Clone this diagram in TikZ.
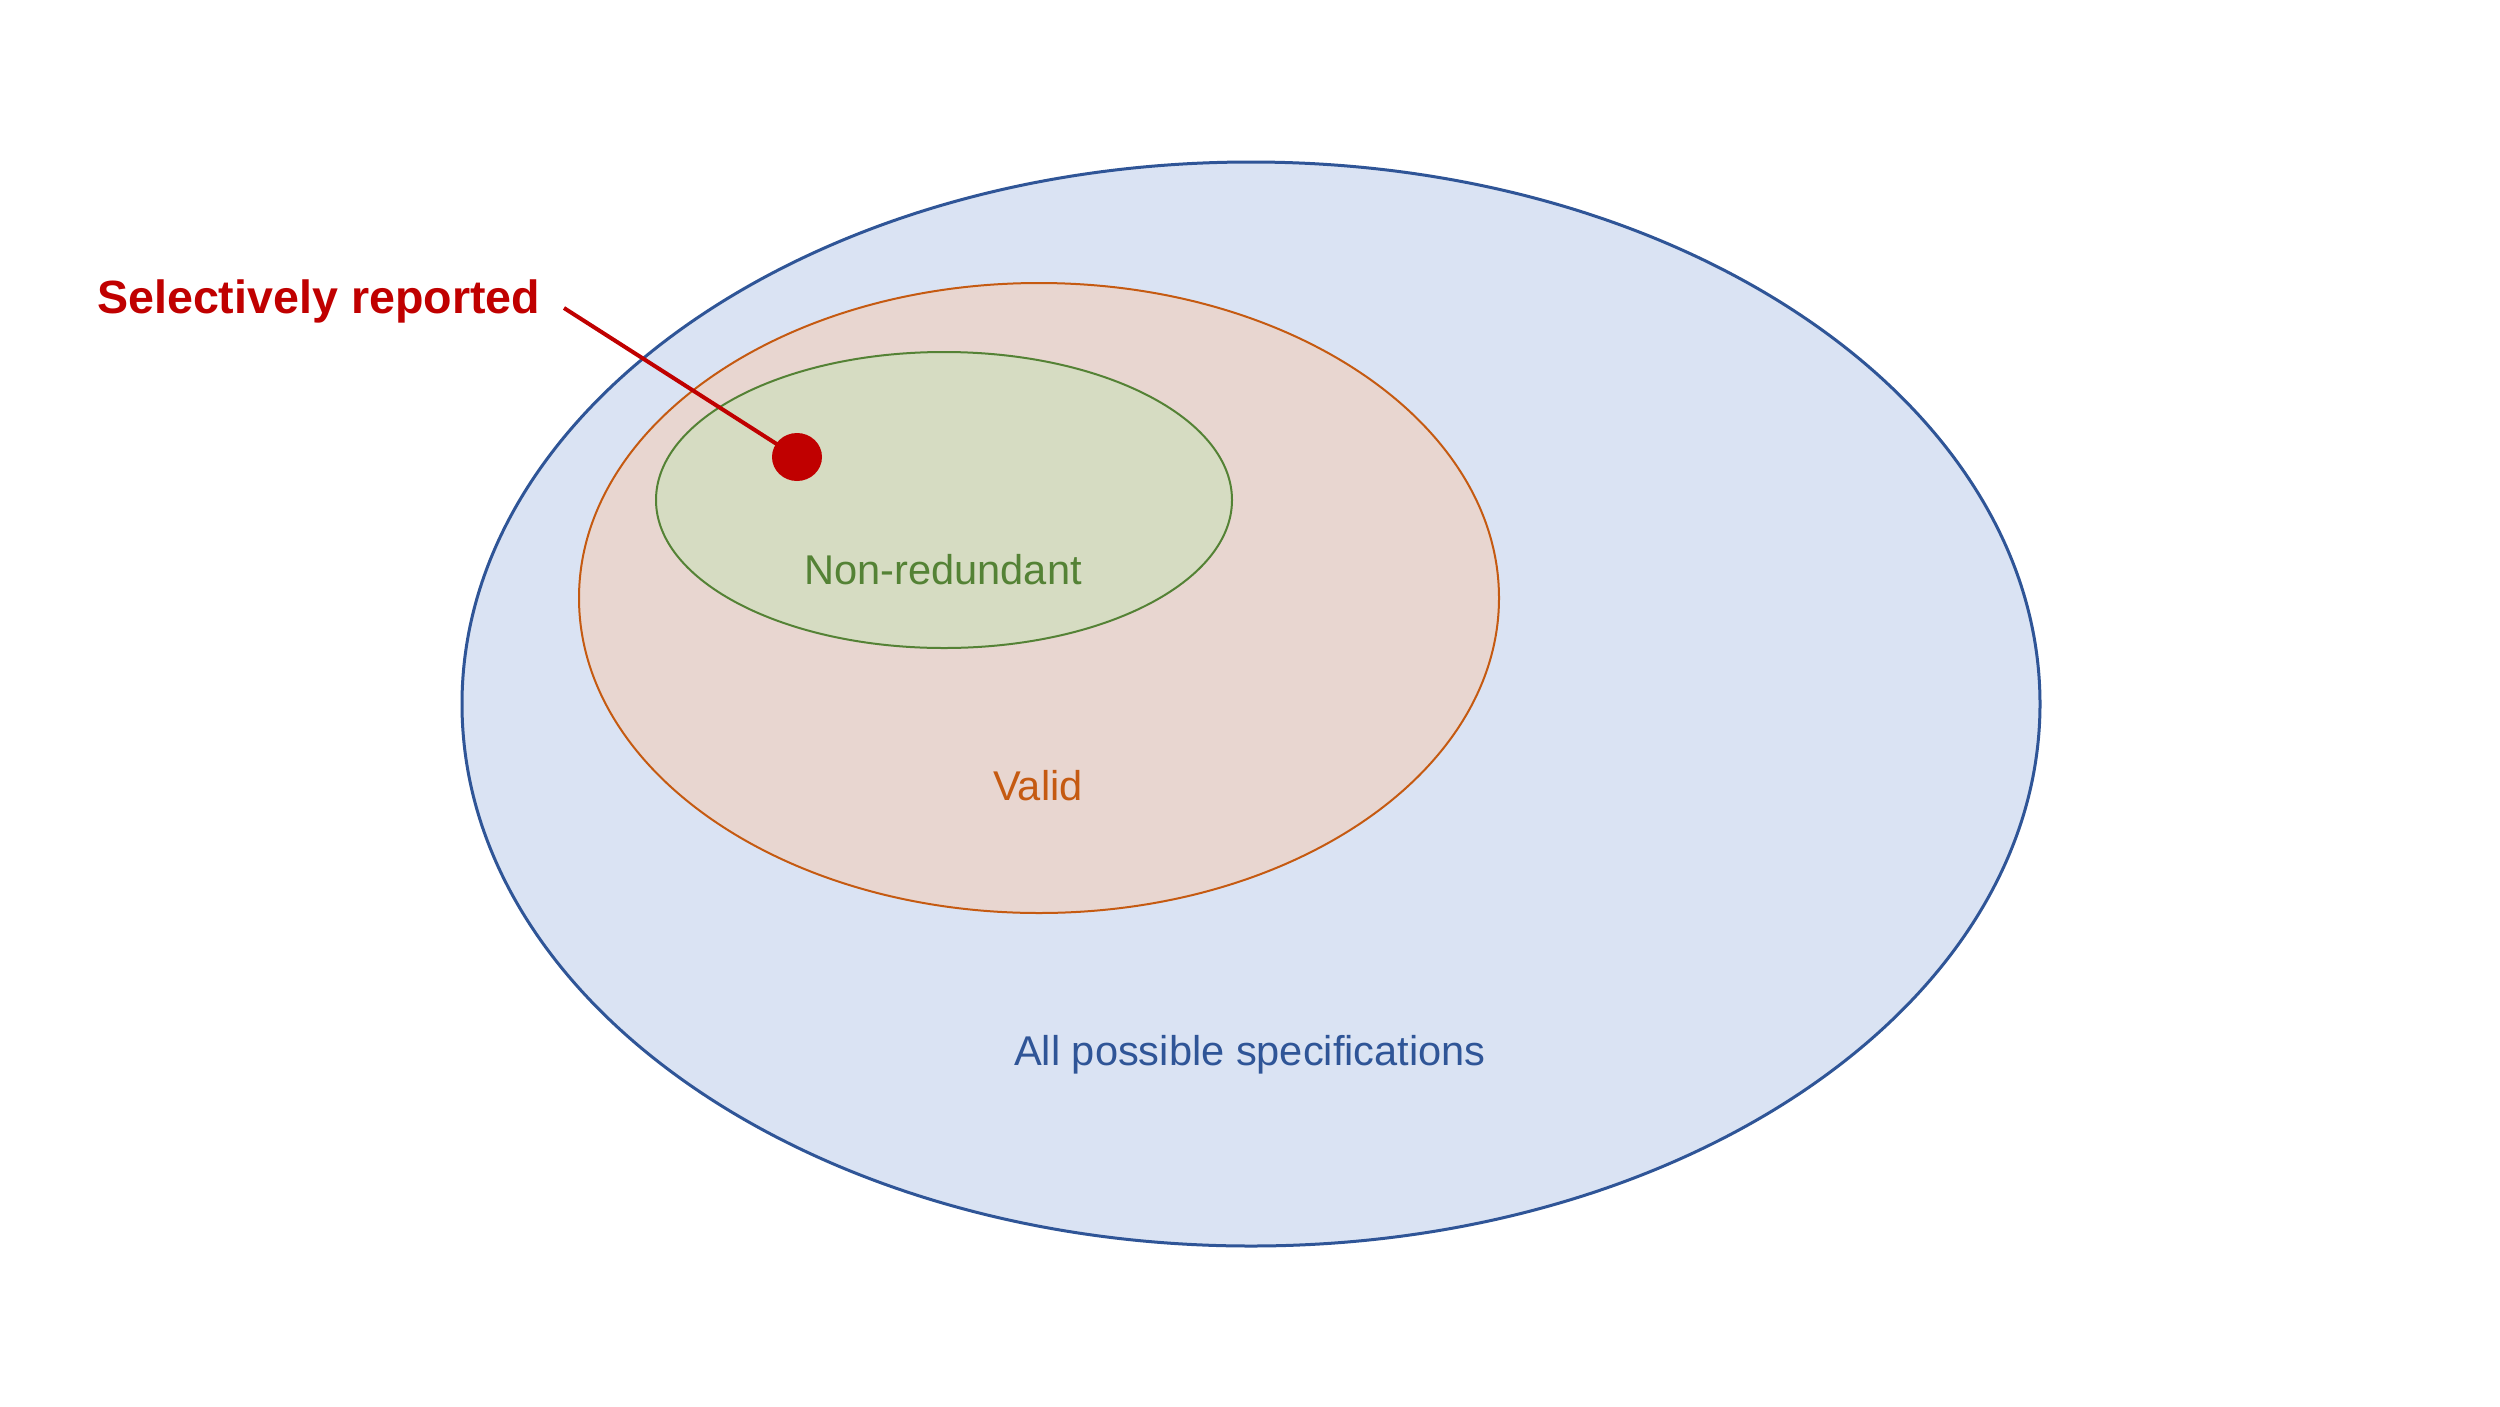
\documentclass[tikz,border=0pt]{standalone}
\usepackage{fontspec}
\setmainfont{Liberation Sans}
\usetikzlibrary{calc}
\definecolor{bluestroke}{HTML}{2F5597}
\definecolor{bluefill}{HTML}{DAE3F3}
\definecolor{orangestroke}{HTML}{C55A11}
\definecolor{orangefill}{HTML}{E8D6D0}
\definecolor{greenstroke}{HTML}{548235}
\definecolor{greenfill}{HTML}{D6DCC2}
\definecolor{redmark}{HTML}{C00000}
\tikzset{
  lbl/.style={inner sep=0pt, anchor=base, font=\fontsize{41.6}{48}\selectfont},
}
\begin{document}
\begin{tikzpicture}[x=1pt,y=-1pt]
\useasboundingbox (0,0) rectangle (2500,1406);
\fill[white] (0,0) rectangle (2500,1406);
% sets
\draw[bluestroke, fill=bluefill, line width=3pt] (1251,704) ellipse [x radius=789, y radius=542];
\draw[orangestroke, fill=orangefill, line width=2pt] (1039,598) ellipse [x radius=460, y radius=315];
\draw[greenstroke, fill=greenfill, line width=2pt] (944,500) ellipse [x radius=288, y radius=148];
% dot
\fill[redmark] (797,457) ellipse [x radius=25, y radius=24];
\coordinate (dot) at (797,457);
% labels
\node[lbl, text=greenstroke] (nr) at (943,584) {Non-redundant};
\node[lbl, text=orangestroke] (valid) at (1038,800) {Valid};
\node[lbl, text=bluestroke] (all) at (1250,1065) {All possible specifications};
\node[inner sep=0pt, anchor=base west, text=redmark, font=\fontsize{46.6}{54}\selectfont\bfseries] (sel) at (97,313) {Selectively reported};
\coordinate (lstart) at (564,308);
\draw[redmark, line width=4pt] (lstart) -- ($(lstart)!0.94!(dot)$);
\end{tikzpicture}
\end{document}
